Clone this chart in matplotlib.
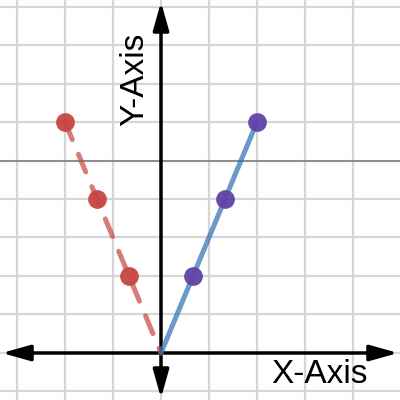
import matplotlib
matplotlib.use('Agg')
import matplotlib.pyplot as plt
import numpy as np

plt.rcParams['font.family'] = ['Liberation Sans', 'DejaVu Sans']
plt.rcParams['lines.scale_dashes'] = False

# ---- data ----
red_x = [-6, -4, -2]
red_y = [6, 4, 2]
blue_x = [2, 4, 6]
blue_y = [2, 4, 6]
origin_x = 0
origin_y = 0
ref_line_y = 5
x_label = "X-Axis"
y_label = "Y-Axis"
x_grid_ticks = [-9, -6, -3, 0, 3, 6, 9, 12]
y_grid_ticks = [-1, 0, 1, 2, 3, 4, 5, 6, 7, 8, 9]

fig = plt.figure(figsize=(4, 4), dpi=100)
ax = fig.add_axes([0, 0, 1, 1])
xlim = (-10.0625, 14.9375)
ylim = (-1.221, 9.169)
ax.set_xlim(xlim)
ax.set_ylim(ylim)
for s in ax.spines.values():
    s.set_visible(False)
ax.set_xticks(x_grid_ticks)
ax.set_yticks(y_grid_ticks)
ax.tick_params(length=0, labelbottom=False, labelleft=False)
ax.grid(True, color='#d6d6d6', lw=1.6)
ax.set_axisbelow(True)

ax.axhline(ref_line_y, color='#8c8c8c', lw=1.4, zorder=1)

# axes arrows
xspan = xlim[1] - xlim[0]
yspan = ylim[1] - ylim[0]
arrow_style = '<|-|>,head_length=17,head_width=4.8'
ax.annotate('', xy=(xlim[1] - xspan * 0.005, 0), xytext=(xlim[0] + xspan * 0.005, 0),
            arrowprops=dict(arrowstyle=arrow_style, mutation_scale=1, color='black',
                            lw=2.5, shrinkA=0, shrinkB=0), zorder=2)
ax.annotate('', xy=(0, ylim[1] - yspan * 0.005), xytext=(0, ylim[0] + yspan * 0.005),
            arrowprops=dict(arrowstyle=arrow_style, mutation_scale=1, color='black',
                            lw=2.5, shrinkA=0, shrinkB=0), zorder=2)

# lines
ax.plot(red_x + [origin_x], red_y + [origin_y], color='#c74440', alpha=0.7, lw=3.6,
        linestyle=(0, (13.7, 11.5)), dash_capstyle='round', zorder=3)
ax.plot([origin_x] + blue_x, [origin_y] + blue_y, color='#2d70b3', alpha=0.7, lw=3.6,
        solid_capstyle='round', zorder=3)

# markers
ax.plot(red_x, red_y, 'o', color='#c74440', ms=13.5, mew=0, alpha=0.95, zorder=4)
ax.plot(blue_x, blue_y, 'o', color='#6042a6', ms=13.5, mew=0, alpha=0.95, zorder=4)

fig.text(0.8, 1 - 383 / 400, x_label, fontsize=24, ha='center', va='baseline')
fig.text(143 / 400, 1 - 79.5 / 400, y_label, fontsize=24, ha='center', va='baseline',
         rotation=90, rotation_mode='anchor')

fig.savefig('out.png', dpi=100)
